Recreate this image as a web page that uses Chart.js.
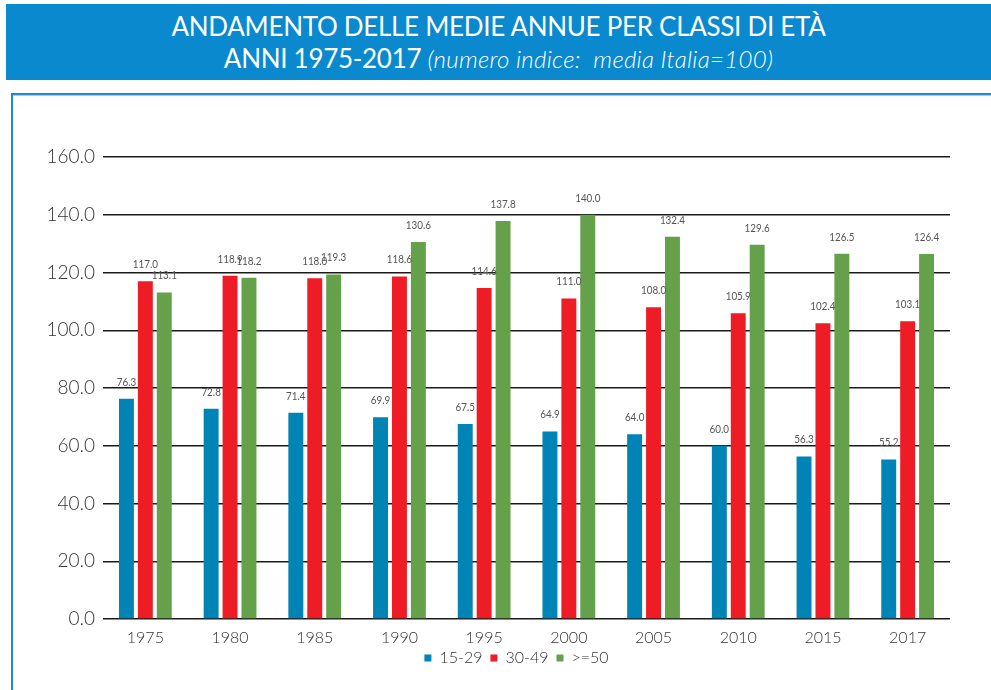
<!DOCTYPE html>
<html>
<head>
<meta charset="utf-8">
<script src="https://cdn.jsdelivr.net/npm/chart.js@4.4.0/dist/chart.umd.min.js"></script>
<style>
html,body{margin:0;padding:0;background:#fff;width:991px;height:690px;overflow:hidden;font-family:Lato,"Open Sans",sans-serif;}
#header{position:absolute;left:6px;top:4px;width:985px;height:76px;background:#0a89cf;color:#fff;text-align:center;}
#l1{position:absolute;left:0;right:0;top:7px;font-size:26px;line-height:30px;letter-spacing:-0.3px;white-space:nowrap;}
#l2{position:absolute;left:0;right:0;top:39px;font-size:26px;line-height:30px;letter-spacing:-0.3px;white-space:nowrap;}
#l2 i{font-weight:300;font-size:24px;letter-spacing:0.3px;}
#box{position:absolute;left:11px;top:93px;width:990px;height:610px;border-left:2px solid #1a8ccf;border-top:2px solid #1a8ccf;box-shadow:0 1px 0 #9fd0ee inset;}
#wrap{position:absolute;left:0;top:100px;width:991px;height:590px;}
</style>
</head>
<body>
<div id="header">
<div id="l1">ANDAMENTO DELLE MEDIE ANNUE PER CLASSI DI ETÀ</div>
<div id="l2">ANNI 1975-2017 <i>(numero indice:&nbsp; media Italia=100)</i></div>
</div>
<div id="box"></div>
<div id="wrap"><canvas id="c"></canvas></div>
<script>
const categories = ["1975","1980","1985","1990","1995","2000","2005","2010","2015","2017"];
const seriesNames = ["15-29","30-49",">=50"];
const values15_29 = [76.3,72.8,71.4,69.9,67.5,64.9,64.0,60.0,56.3,55.2];
const values30_49 = [117.0,118.9,118.0,118.6,114.6,111.0,108.0,105.9,102.4,103.1];
const values50 = [113.1,118.2,119.3,130.6,137.8,140.0,132.4,129.6,126.5,126.4];
const yTicks = [0,20,40,60,80,100,120,140,160];
const colors = ["#0083b5","#ee1c25","#65a04a"];

const labelPlugin = {
  id:'barLabels',
  afterDatasetsDraw(chart){
    const ctx = chart.ctx;
    chart.data.datasets.forEach((ds,i)=>{
      const meta = chart.getDatasetMeta(i);
      meta.data.forEach((bar,j)=>{
        ctx.save();
        ctx.font = '12px Lato, sans-serif';
        ctx.fillStyle = '#555';
        ctx.textAlign = 'center';
        ctx.textBaseline = 'bottom';
        ctx.translate(bar.x, bar.y - 11);
        ctx.scale(0.82, 1);
        ctx.fillText(ds.data[j].toFixed(1), 0, 0);
        ctx.restore();
      });
    });
  }
};

const shiftLegend = {
  id:'shiftLegend',
  afterLayout(chart){
    const lg = chart.legend;
    if (lg) { lg.left += 83; lg.top -= 4; lg.bottom -= 4; }
  }
};

new Chart(document.getElementById('c'), {
  type:'bar',
  data:{
    labels:categories,
    datasets:[
      {label:seriesNames[0],data:values15_29,backgroundColor:colors[0]},
      {label:seriesNames[1],data:values30_49,backgroundColor:colors[1]},
      {label:seriesNames[2],data:values50,backgroundColor:colors[2]}
    ]
  },
  options:{
    responsive:true,
    maintainAspectRatio:false,
    animation:false,
    layout:{padding:{left:0,right:41,top:57,bottom:10}},
    datasets:{bar:{categoryPercentage:0.67,barPercentage:0.79}},
    plugins:{
      legend:{
        position:'bottom',
        labels:{boxWidth:7,boxHeight:7,padding:8,color:'#333',font:{family:'Lato',size:16,weight:'300'}}
      },
      tooltip:{enabled:false}
    },
    scales:{
      x:{
        grid:{display:false},
        border:{display:false},
        ticks:{color:'#333',font:{family:'Lato',size:16,weight:'300'},padding:1},
        afterFit(s){s.height=27;}
      },
      y:{
        min:0,max:160,
        afterBuildTicks(s){s.ticks = yTicks.map(v=>({value:v}));},
        afterFit(s){s.width=103;},
        grid:{color:'#1a1a1a',lineWidth:1.5,drawTicks:false},
        border:{display:false},
        ticks:{color:'#333',font:{family:'Lato',size:19,weight:'300'},padding:8,callback:v=>v.toFixed(1)}
      }
    }
  },
  plugins:[labelPlugin, shiftLegend]
});
</script>
</body>
</html>
